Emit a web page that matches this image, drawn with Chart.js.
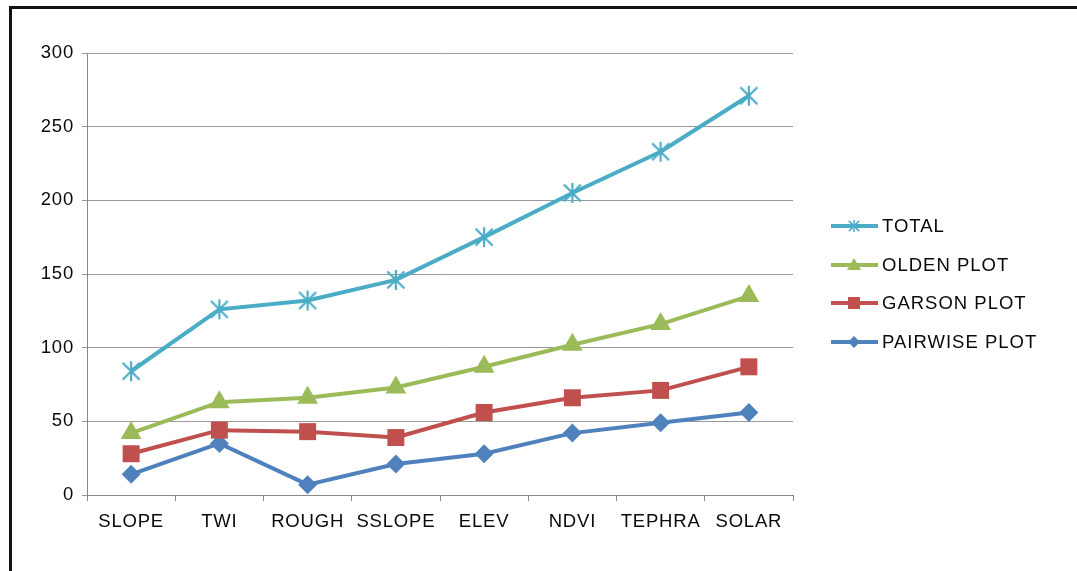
<!DOCTYPE html>
<html>
<head>
<meta charset="utf-8">
<script src="https://cdn.jsdelivr.net/npm/chart.js@4/dist/chart.umd.min.js"></script>
<style>
  html, body { margin: 0; padding: 0; background: #fff; }
  #wrap { position: relative; width: 1077px; height: 571px; }
  #frame {
    position: absolute; left: 9px; top: 6px; right: -10px; bottom: -10px;
    border-top: 3px solid #111; border-left: 3px solid #111;
  }
  canvas { position: absolute; left: 0; top: 0; }
</style>
</head>
<body>
<div id="wrap">
  <div id="frame"></div>
  <canvas id="myChart" width="1077" height="571"></canvas>
</div>
<script>
const categories = ["SLOPE", "TWI", "ROUGH", "SSLOPE", "ELEV", "NDVI", "TEPHRA", "SOLAR"];
const totalValues = [84, 126, 132, 146, 175, 205, 233, 271];
const oldenValues = [42, 63, 66, 73, 87, 102, 116, 135];
const garsonValues = [28, 44, 43, 39, 56, 66, 71, 87];
const pairwiseValues = [14, 35, 7, 21, 28, 42, 49, 56];
const yTicks = [0, 50, 100, 150, 200, 250, 300];

const FONT = { family: "'Liberation Sans', Arial, sans-serif", size: 18.5 };

// asterisk marker: X plus a vertical bar
const makeStar = (size, color, width) => {
  const c = document.createElement("canvas");
  c.width = size;
  c.height = size;
  const g = c.getContext("2d");
  g.strokeStyle = color;
  g.lineWidth = width;
  const m = size / 2;
  const r = size / 2 - 1;
  g.beginPath();
  g.moveTo(m, m - r); g.lineTo(m, m + r);
  g.moveTo(m - r * 0.85, m - r * 0.85); g.lineTo(m + r * 0.85, m + r * 0.85);
  g.moveTo(m + r * 0.85, m - r * 0.85); g.lineTo(m - r * 0.85, m + r * 0.85);
  g.stroke();
  return c;
};

const series = [
  { label: "TOTAL", data: totalValues, color: "#4BACC6", style: makeStar(22, "#4BACC6", 2.2), radius: 10 },
  { label: "OLDEN PLOT", data: oldenValues, color: "#9BBB59", style: "triangle", radius: 12 },
  { label: "GARSON PLOT", data: garsonValues, color: "#C0504D", style: "rect", radius: 12 },
  { label: "PAIRWISE PLOT", data: pairwiseValues, color: "#4F81BD", style: "rectRot", radius: 9.5 },
];

const legendStars = makeStar(14, "#4BACC6", 1.5);

// excel-style legend on the right: line with small marker, then text
const sideLegend = {
  id: "sideLegend",
  afterDraw(chart) {
    const ctx = chart.ctx;
    const rows = [226, 265, 303, 342];
    ctx.save();
    ctx.letterSpacing = "1px";
    chart.data.datasets.forEach((ds, i) => {
      const y = rows[i];
      ctx.strokeStyle = ds.borderColor;
      ctx.lineWidth = 4;
      ctx.beginPath();
      ctx.moveTo(831, y);
      ctx.lineTo(878, y);
      ctx.stroke();
      const cx = 854;
      ctx.fillStyle = ds.borderColor;
      if (i === 0) {
        ctx.drawImage(legendStars, cx - 7, y - 7);
      } else if (i === 1) {
        ctx.beginPath();
        ctx.moveTo(cx, y - 7); ctx.lineTo(cx + 7, y + 5); ctx.lineTo(cx - 7, y + 5);
        ctx.closePath(); ctx.fill();
      } else if (i === 2) {
        ctx.fillRect(cx - 6, y - 6, 12, 12);
      } else {
        ctx.beginPath();
        ctx.moveTo(cx, y - 6); ctx.lineTo(cx + 6, y); ctx.lineTo(cx, y + 6); ctx.lineTo(cx - 6, y);
        ctx.closePath(); ctx.fill();
      }
      ctx.fillStyle = "#0a0a0a";
      ctx.font = `${FONT.size}px ${FONT.family}`;
      ctx.textBaseline = "middle";
      ctx.fillText(ds.label, 882, y + 1);
    });
    ctx.restore();
  },
};

const spacing = {
  id: "spacing",
  beforeDraw(chart) {
    chart.ctx.letterSpacing = "0.8px";
  },
};

new Chart(document.getElementById("myChart"), {
  type: "line",
  data: {
    labels: categories,
    datasets: series.map((s) => ({
      label: s.label,
      data: s.data,
      borderColor: s.color,
      backgroundColor: s.color,
      borderWidth: 4,
      pointStyle: s.style,
      pointRadius: s.radius,
      pointHoverRadius: s.radius,
      pointBorderWidth: 0,
      pointBackgroundColor: s.color,
      tension: 0,
    })),
  },
  plugins: [spacing, sideLegend],
  options: {
    responsive: false,
    animation: false,
    layout: { padding: { left: 0, top: 53, right: 284, bottom: 0 } },
    plugins: {
      legend: { display: false },
      tooltip: { enabled: false },
    },
    scales: {
      x: {
        offset: true,
        afterFit: (s) => { s.height = 76; },
        grid: { offset: true, drawOnChartArea: false, tickLength: 6, color: "#888" },
        border: { color: "#888", width: 1 },
        ticks: { color: "#0a0a0a", font: FONT, padding: 10, maxRotation: 0, autoSkip: false },
      },
      y: {
        min: 0,
        max: 300,
        afterFit: (s) => { s.width = 87; },
        afterBuildTicks: (s) => { s.ticks = yTicks.map((v) => ({ value: v })); },
        grid: { color: "#999", tickLength: 5, lineWidth: 1 },
        border: { color: "#888", width: 1 },
        ticks: { color: "#0a0a0a", font: FONT, padding: 8 },
      },
    },
  },
});
</script>
</body>
</html>
